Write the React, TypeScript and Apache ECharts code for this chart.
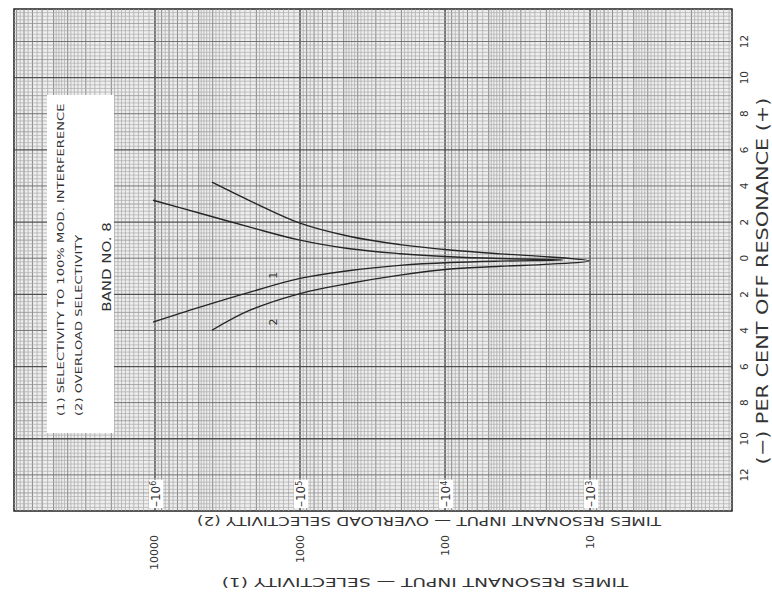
import React, { useEffect, useRef } from 'react';
import * as echarts from 'echarts';

// ---- axis ranges (overload-selectivity scale on x, per cent off resonance on y)
const X_MIN = 105;
const X_MAX = 9.38e6;
const Y_MIN = -14;
const Y_MAX = 13.8;

// ---- curve 1: selectivity to 100% mod. interference (upper branch -> tip -> lower branch)
const curve1Input = [1032000, 489500, 221300, 100000, 45200, 20430, 9236, 4176, 1536, 4176, 9236, 20430, 45200, 100000, 221300, 489500, 1032000];
const curve1Pct = [3.21, 2.49, 1.72, 1.0, 0.52, 0.25, 0.08, -0.02, -0.1, -0.16, -0.24, -0.4, -0.68, -1.12, -1.88, -2.71, -3.54];

// ---- curve 2: overload selectivity
const curve2Input = [404500, 221300, 100000, 45200, 20430, 9236, 4176, 1888, 1016, 1888, 4176, 9236, 20430, 45200, 100000, 221300, 404500];
const curve2Pct = [4.21, 3.18, 1.94, 1.2, 0.75, 0.45, 0.24, 0.07, -0.15, -0.33, -0.45, -0.6, -0.94, -1.39, -1.96, -2.88, -3.99];

// ---- decade marks printed inside the paper
const decadeValues = [1e6, 1e5, 1e4, 1e3];
const decadePowers = ['6', '5', '4', '3'];

// ---- curve number labels
const curveLabelText = ['1', '2'];
const curveLabelInput = [153500, 153500];
const curveLabelPct = [-0.94, -3.54];

const FONT = '"DejaVu Sans", "Liberation Sans", sans-serif';

// graph-paper rulings (structure of the printed paper, not data)
function buildVLines() {
  const out: number[][] = [];
  for (let d = 2; d <= 6; d++) {
    const b = Math.pow(10, d);
    const ms: number[] = [];
    for (let m = 10; m < 20; m += 1) ms.push(m);
    for (let m = 20; m < 50; m += 2) ms.push(m);
    for (let m = 50; m < 100; m += 5) ms.push(m);
    ms.forEach((m) => {
      const v = (m / 10) * b;
      if (v <= X_MIN || v >= X_MAX) return;
      const w = m === 10 ? 2 : m % 10 === 0 ? 1 : 0;
      out.push([v, 0, w]);
    });
  }
  return out;
}
function buildHLines() {
  const out: number[][] = [];
  for (let k = -70; k <= 69; k++) {
    const p = k * 0.2;
    if (p <= Y_MIN || p >= Y_MAX) continue;
    let w = 0;
    if (Math.abs(k) % 20 === 10) w = 3;
    else if (k % 10 === 0) w = 2;
    else if (k % 5 === 0) w = 1;
    out.push([1000, p, w]);
  }
  return out;
}

const V_COL = ['#a6a6a6', '#7d7d7d', '#505050'];
const V_W = [0.7, 0.9, 1.5];
const H_COL = ['#acacac', '#939393', '#737373', '#505050'];
const H_W = [0.7, 0.8, 1.0, 1.3];

export default function App() {
  const ref = useRef<HTMLDivElement>(null);
  useEffect(() => {
    if (!ref.current) return;
    const chart = echarts.init(ref.current, undefined, { renderer: 'svg' });
    const c1 = curve1Input.map((v, i) => [v, curve1Pct[i]]);
    const c2 = curve2Input.map((v, i) => [v, curve2Pct[i]]);
    const option: any = {
      animation: false,
      backgroundColor: '#ffffff',
      grid: { left: 14, right: 40, top: 9, bottom: 86, show: true, borderColor: '#222', borderWidth: 1.5, backgroundColor: '#eeeeee' },
      xAxis: {
        type: 'log',
        logBase: 10,
        inverse: true,
        min: X_MIN,
        max: X_MAX,
        axisLine: { show: false },
        axisTick: { show: false },
        splitLine: { show: false },
        axisLabel: {
          rotate: 90,
          margin: 24,
          fontFamily: FONT,
          fontSize: 11,
          color: '#333',
          showMinLabel: false,
          showMaxLabel: false,
          formatter: (v: number) => {
            const l = Math.log10(v);
            if (Math.abs(l - Math.round(l)) > 1e-6) return '';
            return String(Math.round(v / 100));
          },
        },
      },
      yAxis: {
        type: 'value',
        position: 'right',
        min: Y_MIN,
        max: Y_MAX,
        interval: 2,
        axisLine: { show: false },
        axisTick: { show: false },
        splitLine: { show: false },
        axisLabel: {
          rotate: 90,
          margin: 6,
          fontFamily: FONT,
          fontSize: 10.5,
          color: '#333',
          formatter: (v: number) => (Math.abs(v) <= 12 ? String(Math.abs(v)) : ''),
        },
      },
      series: [
        {
          type: 'custom',
          silent: true,
          z: 1,
          encode: { x: 0, y: 1 },
          data: buildVLines(),
          renderItem: (_p: any, api: any) => {
            const v = api.value(0);
            const w = api.value(2);
            const a = api.coord([v, Y_MAX]);
            const b = api.coord([v, Y_MIN]);
            return { type: 'line', shape: { x1: a[0], y1: a[1], x2: b[0], y2: b[1] }, style: { stroke: V_COL[w], lineWidth: V_W[w] } };
          },
        },
        {
          type: 'custom',
          silent: true,
          z: 1,
          encode: { x: 0, y: 1 },
          data: buildHLines(),
          renderItem: (_p: any, api: any) => {
            const p = api.value(1);
            const w = api.value(2);
            const a = api.coord([X_MAX, p]);
            const b = api.coord([X_MIN, p]);
            return { type: 'line', shape: { x1: a[0], y1: a[1], x2: b[0], y2: b[1] }, style: { stroke: H_COL[w], lineWidth: H_W[w] } };
          },
        },
        {
          type: 'line',
          name: 'Selectivity (1)',
          data: c1,
          showSymbol: false,
          smooth: 0.35,
          z: 5,
          lineStyle: { color: '#262626', width: 1.4 },
        },
        {
          type: 'line',
          name: 'Overload selectivity (2)',
          data: c2,
          showSymbol: false,
          smooth: 0.35,
          z: 5,
          lineStyle: { color: '#262626', width: 1.4 },
        },
        {
          type: 'custom',
          silent: true,
          z: 6,
          encode: { x: 0, y: 1 },
          data: decadeValues.map((v, i) => [v, -13.05, i]),
          renderItem: (_p: any, api: any) => {
            const pt = api.coord([api.value(0), api.value(1)]);
            const i = api.value(2);
            return {
              type: 'text',
              x: pt[0] + 1,
              y: pt[1],
              rotation: Math.PI / 2,
              style: {
                text: '{d|\u201310}{s|' + decadePowers[i] + '}',
                fill: '#333',
                align: 'center',
                verticalAlign: 'middle',
                backgroundColor: '#ffffff',
                padding: [1, 1],
                rich: {
                  d: { fontFamily: FONT, fontSize: 12, fill: '#333', verticalAlign: 'bottom' },
                  s: { fontFamily: FONT, fontSize: 8, fill: '#333', verticalAlign: 'top' },
                },
              },
            };
          },
        },
        {
          type: 'custom',
          silent: true,
          z: 6,
          encode: { x: 0, y: 1 },
          data: curveLabelInput.map((v, i) => [v, curveLabelPct[i], i]),
          renderItem: (_p: any, api: any) => {
            const pt = api.coord([api.value(0), api.value(1)]);
            const i = api.value(2);
            return {
              type: 'text',
              x: pt[0],
              y: pt[1],
              rotation: Math.PI / 2,
              style: { text: curveLabelText[i], font: `11px ${FONT}`, fill: '#333', align: 'center', verticalAlign: 'middle' },
            };
          },
        },
      ],
      graphic: [
        { type: 'rect', z: 20, shape: { x: 47, y: 95, width: 67, height: 338 }, style: { fill: '#ffffff' } },
        {
          type: 'text', z: 21, x: 61, y: 416, rotation: Math.PI / 2, scaleX: 1.38,
          style: { text: '(1) SELECTIVITY TO 100% MOD. INTERFERENCE', font: `9.5px ${FONT}`, fill: '#333', align: 'left', verticalAlign: 'middle' },
        },
        {
          type: 'text', z: 21, x: 79, y: 416, rotation: Math.PI / 2, scaleX: 1.38,
          style: { text: '(2) OVERLOAD SELECTIVITY', font: `9.5px ${FONT}`, fill: '#333', align: 'left', verticalAlign: 'middle' },
        },
        {
          type: 'text', z: 21, x: 107, y: 267, rotation: Math.PI / 2, scaleX: 1.25,
          style: { text: 'BAND NO. 8', font: `12px ${FONT}`, fill: '#333', align: 'center', verticalAlign: 'middle' },
        },
        {
          type: 'text', z: 21, x: 429, y: 521, rotation: Math.PI, scaleX: 1.46,
          style: { text: 'TIMES RESONANT INPUT \u2014 OVERLOAD SELECTIVITY (2)', font: `11.5px ${FONT}`, fill: '#333', align: 'center', verticalAlign: 'middle' },
        },
        {
          type: 'text', z: 21, x: 425, y: 582, rotation: Math.PI, scaleX: 1.49,
          style: { text: 'TIMES RESONANT INPUT \u2014 SELECTIVITY (1)', font: `12.5px ${FONT}`, fill: '#333', align: 'center', verticalAlign: 'middle' },
        },
        {
          type: 'text', z: 21, x: 762, y: 281, rotation: Math.PI / 2, scaleX: 1.3,
          style: { text: '(\u2212) PER CENT OFF RESONANCE (+)', font: `16px ${FONT}`, fill: '#333', align: 'center', verticalAlign: 'middle' },
        },
      ],
    };
    chart.setOption(option);
    return () => chart.dispose();
  }, []);
  return <div ref={ref} style={{ position: 'fixed', left: 0, top: 0, width: 772, height: 597 }} />;
}
